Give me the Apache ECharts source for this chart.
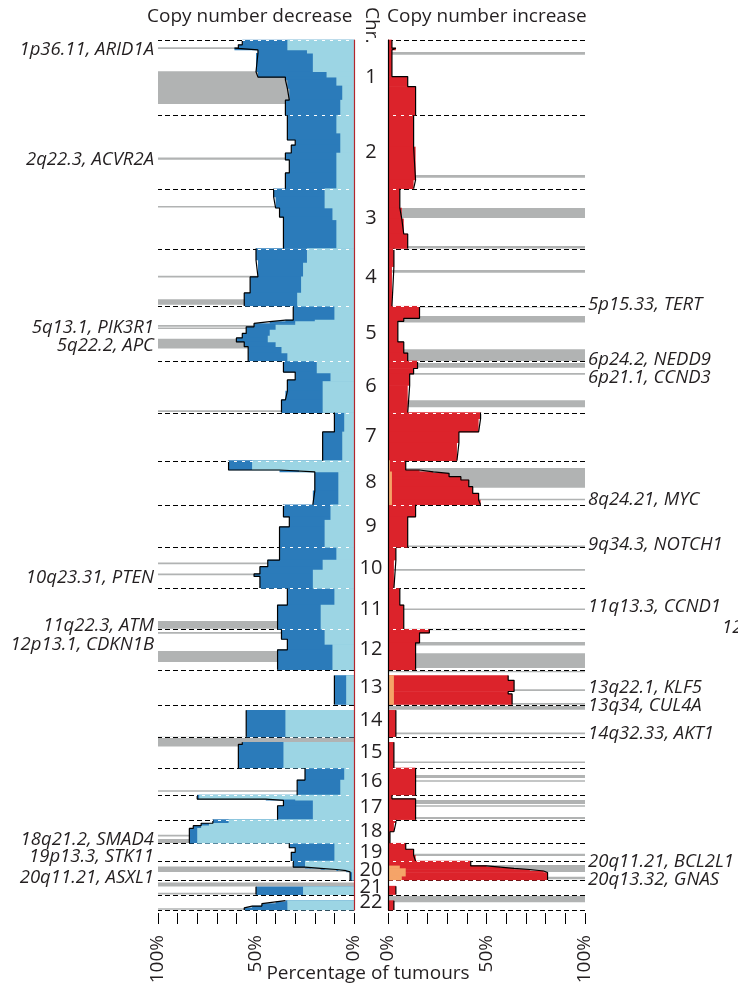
<!DOCTYPE html>
<html>
<head>
<meta charset="utf-8">
<script src="https://cdn.jsdelivr.net/npm/echarts/dist/echarts.min.js"></script>
<style>
  html, body { margin: 0; padding: 0; background: #ffffff; }
  #chart { width: 738px; height: 987px; }
</style>
</head>
<body>
<div id="chart"></div>
<script>
// Chromosomes and their lengths (Mb, hg19)
const chromosomes = ['1','2','3','4','5','6','7','8','9','10','11','12','13','14','15','16','17','18','19','20','21','22'];
const chromLengthsMb = [249,243,198,191,181,171,159,146,141,136,135,134,115,107,103,90,81,78,59,63,48,51];

// Per chromosome: list of [segment end (Mb within chromosome), % of tumours]
const lossTotal = [
  [[16,57],[27,59],[33,61],[44,49],[105,50],[123,49],[132,35],[160,34],[199,33],[249,35]],
  [[82,34],[99,30],[125,32],[148,35],[191,33],[243,35]],
  [[27,41],[64,40],[94,38],[198,36]],
  [[38,50],[94,49],[147,53],[191,56]],
  [[46,31],[51,35],[57,43],[68,51],[90,55],[105,57],[118,60],[134,56],[155,54],[181,54]],
  [[37,36],[63,30],[100,34],[129,35],[171,37]],
  [[64,10],[159,16]],
  [[31,64],[37,38],[100,20],[146,21]],
  [[40,36],[73,33],[141,38]],
  [[42,38],[64,44],[88,48],[96,51],[136,48]],
  [[55,34],[135,39]],
  [[33,37],[68,34],[134,39]],
  [[19,0],[115,10]],
  [[19,0],[107,55]],
  [[18,0],[25,57],[103,59]],
  [[40,25],[90,29]],
  [[13,80],[17,45],[35,36],[81,39]],
  [[12,72],[20,78],[29,82],[78,84]],
  [[15,33],[30,30],[59,32]],
  [[20,31],[24,25],[28,17],[32,9],[36,4],[63,2]],
  [[22,0],[48,50]],
  [[20,0],[24,35],[30,40],[38,47],[44,52],[51,56]]
];
const lossShallow = [
  [[33,34],[44,24],[105,21],[123,14],[150,9],[199,6],[249,7]],
  [[59,9],[125,7],[243,9]],
  [[64,15],[103,11],[198,9]],
  [[48,24],[94,26],[147,27],[191,29]],
  [[46,10],[51,20],[62,30],[79,40],[99,43],[118,44],[134,40],[155,37],[181,34]],
  [[40,19],[68,12],[171,16]],
  [[64,5],[159,6]],
  [[31,52],[37,28],[146,8]],
  [[51,12],[141,15]],
  [[42,9],[75,16],[136,21]],
  [[55,10],[135,17]],
  [[50,15],[134,11]],
  [[19,0],[115,4]],
  [[19,0],[107,35]],
  [[18,0],[103,36]],
  [[40,5],[90,7]],
  [[13,79],[17,30],[81,21]],
  [[12,64],[20,74],[29,78],[78,80]],
  [[59,10]],
  [[20,25],[24,22],[28,15],[32,8],[36,3],[63,1]],
  [[22,0],[48,26]],
  [[20,0],[24,34],[51,34]]
];
const gainTotal = [
  [[27,2],[33,4],[121,2],[154,10],[249,14]],
  [[105,13],[214,14],[243,13]],
  [[64,6],[100,7],[150,8],[198,10]],
  [[60,3],[191,2]],
  [[40,16],[50,8],[118,5],[155,8],[181,10]],
  [[25,15],[43,13],[81,11],[171,10]],
  [[20,47],[64,46],[100,36],[159,35]],
  [[31,9],[37,16],[42,23],[53,31],[64,37],[86,41],[108,43],[130,46],[146,47]],
  [[40,14],[141,10]],
  [[42,4],[136,3]],
  [[55,6],[135,8]],
  [[12,21],[45,16],[134,14]],
  [[19,0],[35,61],[72,64],[80,61],[115,63]],
  [[19,0],[107,4]],
  [[18,0],[103,3]],
  [[90,14]],
  [[12,2],[81,14]],
  [[10,4],[40,3],[78,1]],
  [[20,9],[40,13],[59,14]],
  [[16,42],[20,50],[24,57],[28,64],[33,72],[38,79],[63,81]],
  [[20,0],[48,4]],
  [[20,0],[51,3]]
];
const gainAmp = [
  [],[],[],[],[],[],[],
  [[37,1],[146,2]],
  [],[],[],[],
  [[19,0],[115,3]],
  [],[],[],[],[],[],
  [[16,0],[25,6],[50,9],[63,7]],
  [],[]
];

// Highlighted gene regions: [chromosome, start Mb, end Mb]
const lossGeneBands = [
  [1,25,29],[1,103,212],[2,140,147],[3,59,61],[4,92,94],[4,168,186],
  [5,64,66],[5,72,74],[5,108,140],[6,165,167],[10,52,54],[10,88,91],
  [11,108,133],[12,11,13],[12,72,108],[15,0,32],[16,75,77],
  [18,51,55],[18,64,78],[20,18,36],[21,8,21],[21,42,48],[22,45,50]
];
const gainGeneBands = [
  [1,40,49],[2,198,207],[3,64,97],[3,190,198],[4,71,80],[5,0,3],[5,32,54],
  [5,142,181],[6,7,23],[6,42,44],[6,130,153],[8,24,90],[8,127,130],
  [9,136,139],[10,73,76],[11,68,70],[12,0,2],[12,42,54],[12,79,128],
  [13,5,7],[13,66,69],[13,110,115],[14,0,17],[14,94,97],[15,82,86],
  [16,23,33],[16,42,44],[17,16,29],[17,35,37],[17,72,79],[19,35,42],
  [20,13,36],[20,52,60],[22,5,25]
];

// Gene labels: [text, chromosome, row position in Mb]
const lossGeneLabels = [
  ['1p36.11, ARID1A',1,33],['2q22.3, ACVR2A',2,148],['5q13.1, PIK3R1',5,72],
  ['5q22.2, APC',5,132],['10q23.31, PTEN',10,101],['11q22.3, ATM',11,124],
  ['12p13.1, CDKN1B',12,52],['18q21.2, SMAD4',18,67],['19p13.3, STK11',19,45],
  ['20q11.21, ASXL1',20,56]
];
const gainGeneLabels = [
  ['5p15.33, TERT',5,-4],['6p24.2, NEDD9',6,-3],['6p21.1, CCND3',6,56],
  ['8q24.21, MYC',8,130],['9q34.3, NOTCH1',9,133],['11q13.3, CCND1',11,61],
  ['13q22.1, KLF5',13,60],['13q34, CUL4A',13,120],['14q32.33, AKT1',14,98],
  ['20q11.21, BCL2L1',20,3],['20q13.32, GNAS',20,62]
];

const panelTitles = ['Copy number decrease', 'Copy number increase'];
const chrTitle = 'Chr.';
const axisTitle = 'Percentage of tumours';
const pctTicks = [0, 50, 100];

// ---- derived genome coordinates ----
const chromStart = [];
let genomeMb = 0;
chromLengthsMb.forEach(l => { chromStart.push(genomeMb); genomeMb += l; });

function stepItems(profile) {
  const out = [];
  profile.forEach((segs, ci) => {
    let s = 0;
    segs.forEach(([e, v]) => { if (v > 0) out.push([chromStart[ci] + s, chromStart[ci] + e, v]); s = e; });
  });
  return out;
}
function outlinePoints(profile) {
  const pts = [];
  profile.forEach((segs, ci) => {
    let s = 0, started = false;
    segs.forEach(([e, v]) => {
      if (v > 0 || started) {
        pts.push([v, chromStart[ci] + s]);
        pts.push([v, chromStart[ci] + e]);
        started = true;
      }
      s = e;
    });
    pts.push(['-', '-']);
  });
  return pts;
}
const bandItems = bands => bands.map(([c, s, e]) => [chromStart[c - 1] + s, chromStart[c - 1] + e]);
const labelItems = labels => labels.map(([t, c, p]) => [chromStart[c - 1] + p]);
const boundaryItems = chromStart.concat([genomeMb]).map(v => [v]);
const chromMidItems = chromStart.map((s, i) => [s + chromLengthsMb[i] / 2]);

// ---- renderers ----
function fillRender(color) {
  return (params, api) => {
    const a = api.coord([0, api.value(0)]);
    const b = api.coord([api.value(2), api.value(1)]);
    return {
      type: 'rect',
      shape: { x: Math.min(a[0], b[0]), y: a[1] - 0.3, width: Math.abs(b[0] - a[0]), height: b[1] - a[1] + 0.6 },
      style: { fill: color }
    };
  };
}
function bandRender(params, api) {
  const a = api.coord([0, api.value(0)]);
  const b = api.coord([100, api.value(1)]);
  let y = a[1], h = b[1] - a[1];
  if (h < 1.6) { y = (a[1] + b[1]) / 2 - 0.8; h = 1.6; }
  return {
    type: 'rect',
    shape: { x: Math.min(a[0], b[0]), y: y, width: Math.abs(b[0] - a[0]), height: h },
    style: { fill: '#b1b3b3' }
  };
}
function boundaryRender(color, dash, offset) {
  return (params, api) => {
    const a = api.coord([0, api.value(0)]);
    const b = api.coord([100, api.value(0)]);
    const y = Math.round(a[1]) + 0.5;
    return {
      type: 'line',
      shape: { x1: a[0], y1: y, x2: b[0], y2: y },
      style: { stroke: color, lineWidth: 1.2, lineDash: dash, lineDashOffset: offset }
    };
  };
}
const FONT = '"Open Sans", "Noto Sans", sans-serif';
const INK = '#231f20';
function labelRender(labels, side) {
  return (params, api) => {
    const edge = api.coord([100, api.value(0)]);
    return {
      type: 'text',
      x: side === 'left' ? edge[0] - 4 : edge[0] + 3,
      y: edge[1],
      style: {
        text: labels[params.dataIndex][0],
        fill: INK,
        fontSize: 18.5,
        fontStyle: 'italic',
        fontFamily: FONT,
        align: side === 'left' ? 'right' : 'left',
        verticalAlign: 'middle'
      }
    };
  };
}
function chromNumberRender(params, api) {
  const p = api.coord([0, api.value(0)]);
  return {
    type: 'text',
    x: p[0] - 17,
    y: p[1],
    style: {
      text: chromosomes[params.dataIndex],
      fill: INK, fontSize: 20, fontFamily: FONT,
      align: 'center', verticalAlign: 'middle'
    }
  };
}

function panelSeries(idx, totalProfile, innerProfile, outerColor, innerColor, bands) {
  const ax = { xAxisIndex: idx, yAxisIndex: idx };
  return [
    Object.assign({ type: 'custom', z: 1, silent: true, data: bandItems(bands), renderItem: bandRender }, ax),
    Object.assign({ type: 'custom', z: 1, silent: true, data: boundaryItems, renderItem: boundaryRender('#000', [5, 3], 0) }, ax),
    Object.assign({ type: 'custom', z: 2, silent: true, data: stepItems(totalProfile), renderItem: fillRender(outerColor) }, ax),
    Object.assign({ type: 'custom', z: 3, silent: true, data: stepItems(innerProfile), renderItem: fillRender(innerColor) }, ax),
    Object.assign({ type: 'line', z: 4, silent: true, showSymbol: false, connectNulls: false,
      data: outlinePoints(totalProfile), lineStyle: { color: '#000', width: 1.2 } }, ax),
    Object.assign({ type: 'custom', z: 5, silent: true, data: boundaryItems, renderItem: boundaryRender('#fff', [3, 5], 3) }, ax)
  ];
}

function pctAxis(gridIndex, inverse) {
  return {
    type: 'value', gridIndex, min: 0, max: 100, interval: 10, inverse,
    position: 'bottom', offset: 3,
    axisLine: { show: true, onZero: false, lineStyle: { color: 'rgba(0,0,0,0)' } },
    axisTick: { show: true, length: 11, lineStyle: { color: '#000', width: 1 } },
    splitLine: { show: false },
    axisLabel: {
      rotate: 90, margin: 22, fontSize: 19, fontFamily: FONT, color: INK,
      formatter: v => (pctTicks.indexOf(v) >= 0 ? v + '%' : '')
    }
  };
}
function genomeAxis(gridIndex, position, color) {
  return {
    type: 'value', gridIndex, min: 0, max: genomeMb, inverse: true, position, z: 10,
    axisLine: { show: true, onZero: false, lineStyle: { color, width: 1.2 } },
    axisTick: { show: false }, axisLabel: { show: false }, splitLine: { show: false }
  };
}

const chart = echarts.init(document.getElementById('chart'));
chart.setOption({
  animation: false,
  backgroundColor: '#ffffff',
  grid: [
    { left: 158, top: 40, width: 196, height: 870 },
    { left: 388, top: 40, width: 197, height: 870 }
  ],
  xAxis: [pctAxis(0, true), pctAxis(1, false)],
  yAxis: [genomeAxis(0, 'right', '#b3262c'), genomeAxis(1, 'left', '#000')],
  graphic: [
    { type: 'text', left: 147, top: 7, style: { text: panelTitles[0], fontSize: 19, fontFamily: FONT, fill: INK } },
    { type: 'text', left: 387, top: 7, style: { text: panelTitles[1], fontSize: 19, fontFamily: FONT, fill: INK } },
    { type: 'text', x: 371, y: 7, rotation: -Math.PI / 2,
      style: { text: chrTitle, fontSize: 19, fontFamily: FONT, fill: INK, align: 'left', verticalAlign: 'middle' } },
    { type: 'text', x: 368, y: 974, style: { text: axisTitle, fontSize: 19, fontFamily: FONT, fill: INK, align: 'center', verticalAlign: 'middle' } },
    { type: 'text', x: 722, y: 628, style: { text: '12', fontSize: 18.5, fontStyle: 'italic', fontFamily: FONT, fill: INK, verticalAlign: 'middle' } }
  ],
  series: [
    ...panelSeries(0, lossTotal, lossShallow, '#2b7bba', '#9cd5e4', lossGeneBands),
    ...panelSeries(1, gainTotal, gainAmp, '#dc232b', '#f5a468', gainGeneBands),
    { type: 'custom', xAxisIndex: 0, yAxisIndex: 0, z: 6, silent: true, data: labelItems(lossGeneLabels), renderItem: labelRender(lossGeneLabels, 'left') },
    { type: 'custom', xAxisIndex: 1, yAxisIndex: 1, z: 6, silent: true, data: labelItems(gainGeneLabels), renderItem: labelRender(gainGeneLabels, 'right') },
    { type: 'custom', xAxisIndex: 1, yAxisIndex: 1, z: 6, silent: true, data: chromMidItems, renderItem: chromNumberRender }
  ]
});
</script>
</body>
</html>
